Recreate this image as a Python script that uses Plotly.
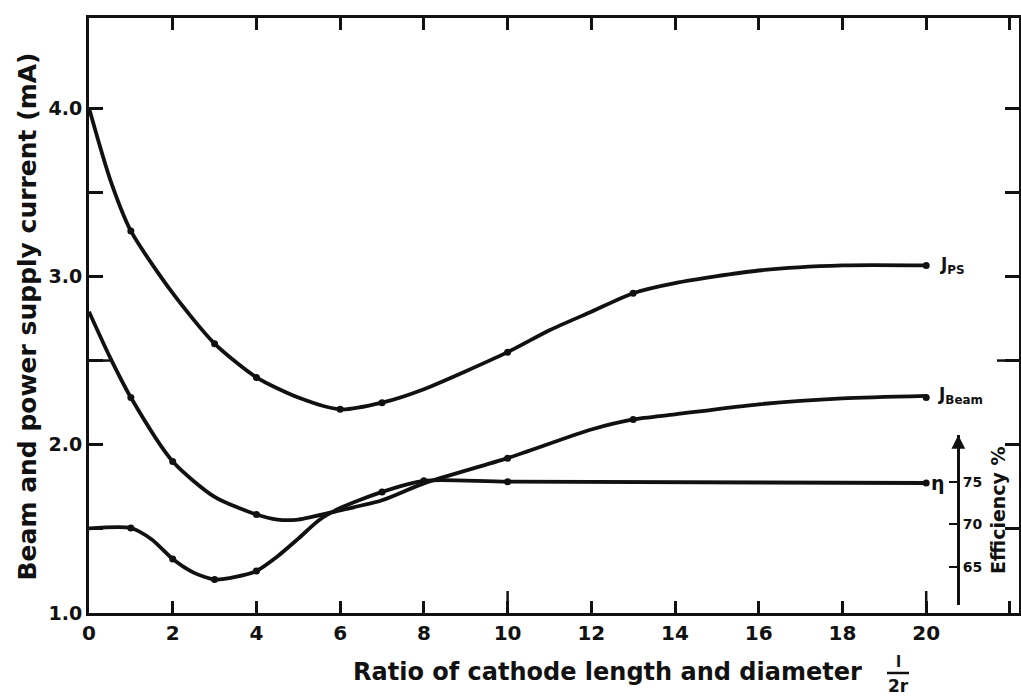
import plotly.graph_objects as go

# ---------------- data ----------------
# Power-supply current J_PS (mA): smooth curve and measured dots
ps_curve_x = [0, 0.5, 1, 2, 3, 4, 5, 6, 7, 8, 10, 11, 12, 13, 14, 16, 18, 20]
ps_curve_y = [4.0, 3.58, 3.27, 2.90, 2.60, 2.40, 2.28, 2.21, 2.25, 2.33, 2.55, 2.68, 2.79, 2.90, 2.96, 3.035, 3.065, 3.065]
ps_pts_x = [1, 3, 4, 6, 7, 10, 13, 20]
ps_pts_y = [3.27, 2.60, 2.40, 2.21, 2.25, 2.55, 2.90, 3.065]

# Beam current J_Beam (mA)
beam_curve_x = [0, 0.5, 1, 2, 3, 4, 4.5, 5, 6, 7, 8, 10, 12, 13, 14, 16, 18, 20]
beam_curve_y = [2.79, 2.52, 2.28, 1.90, 1.69, 1.585, 1.555, 1.555, 1.61, 1.67, 1.77, 1.92, 2.09, 2.15, 2.18, 2.24, 2.275, 2.29]
beam_pts_x = [1, 2, 4, 10, 13, 20]
beam_pts_y = [2.28, 1.90, 1.585, 1.92, 2.15, 2.28]

# Efficiency eta (%)
eta_curve_x = [0, 1, 1.5, 2, 2.5, 3, 3.5, 4, 4.5, 5, 5.5, 6, 7, 8, 10, 20]
eta_curve_y = [69.5, 69.55, 68.2, 65.9, 64.3, 63.5, 63.8, 64.5, 66.2, 68.3, 70.5, 71.9, 73.8, 75.1, 75.0, 74.85]
eta_pts_x = [1, 2, 3, 4, 7, 8, 10, 20]
eta_pts_y = [69.55, 65.9, 63.5, 64.5, 73.8, 75.1, 75.0, 74.85]

x_ticks = [0, 2, 4, 6, 8, 10, 12, 14, 16, 18, 20, 22]
x_ticklabels = ["0", "2", "4", "6", "8", "10", "12", "14", "16", "18", "20", ""]
y_ticks = [1.0, 1.5, 2.0, 2.5, 3.0, 3.5, 4.0]
y_ticklabels = ["1.0", "", "2.0", "", "3.0", "", "4.0"]
eff_ticks = [65, 70, 75]
eff_ticklabels = ["65", "70", "75"]

# ---------------- figure ----------------
INK = "#111111"
FONT = "DejaVu Sans"
L, R, T, B = 89, 2, 18, 84
W, H = 1021, 697
PW, PH = W - L - R, H - T - B

fig = go.Figure()

def add_series(cx, cy, px, py, yaxis="y"):
    fig.add_trace(go.Scatter(x=cx, y=cy, mode="lines", yaxis=yaxis,
                             line=dict(color=INK, width=3.8, shape="spline", smoothing=0.7),
                             hoverinfo="skip", showlegend=False))
    fig.add_trace(go.Scatter(x=px, y=py, mode="markers", yaxis=yaxis,
                             marker=dict(color=INK, size=7),
                             showlegend=False))

add_series(ps_curve_x, ps_curve_y, ps_pts_x, ps_pts_y)
add_series(beam_curve_x, beam_curve_y, beam_pts_x, beam_pts_y)
add_series(eta_curve_x, eta_curve_y, eta_pts_x, eta_pts_y, yaxis="y2")

tickfont = dict(family=FONT, size=20, color=INK, weight="bold")

eff_pos = (958.3 - L) / PW
eff_dom = [(613 - 605) / PH, (613 - 435) / PH]

fig.update_layout(
    width=W, height=H,
    margin=dict(l=L, r=R, t=T, b=B, pad=0, autoexpand=False),
    paper_bgcolor="white", plot_bgcolor="rgba(0,0,0,0)",
    showlegend=False,
    xaxis=dict(range=[0, 930 / 41.86], showgrid=False, zeroline=False, automargin=False,
               showline=True, linewidth=3, linecolor=INK, mirror="ticks",
               ticks="inside", ticklen=12, tickwidth=2.5, tickcolor=INK,
               tickvals=x_ticks, ticktext=x_ticklabels, tickfont=tickfont),
    yaxis=dict(range=[1.0, 1.0 + (613 - T) / 168.3], showgrid=False, zeroline=False,
               automargin=False,
               showline=True, linewidth=3, linecolor=INK, mirror="ticks",
               ticks="inside", ticklen=14, tickwidth=2.5, tickcolor=INK,
               tickvals=y_ticks, ticktext=y_ticklabels,
               tickfont=dict(family=FONT, size=19, color=INK, weight="bold")),
    yaxis2=dict(domain=eff_dom, range=[75 - (605 - 481.7) / 8.5, 75 + (481.7 - 435) / 8.5],
                anchor="free", position=eff_pos, side="right", automargin=False,
                showgrid=False, zeroline=False,
                showline=True, linewidth=2.5, linecolor=INK,
                ticks="inside", ticklen=9, tickwidth=2, tickcolor=INK,
                tickvals=eff_ticks, ticktext=eff_ticklabels,
                tickfont=dict(family=FONT, size=14, color=INK, weight="bold")),
)

# longer tick marks
shapes = [
    dict(type="line", xref="paper", yref="y", x0=0, x1=21 / PW, y0=2.5, y1=2.5,
         line=dict(color=INK, width=2.5)),
    dict(type="line", xref="paper", yref="y", x0=1 - 22 / PW, x1=1, y0=2.5, y1=2.5,
         line=dict(color=INK, width=2.5)),
    dict(type="line", xref="x", yref="paper", x0=10, x1=10, y0=0, y1=22 / PH,
         line=dict(color=INK, width=2.5)),
    dict(type="line", xref="x", yref="paper", x0=20, x1=20, y0=0, y1=22 / PH,
         line=dict(color=INK, width=2.5)),
    # fraction bar of l/2r
    dict(type="line", xref="paper", yref="paper",
         x0=(887 - L) / PW, x1=(909 - L) / PW, y0=(613 - 673) / PH, y1=(613 - 673) / PH,
         line=dict(color=INK, width=2.5)),
]
fig.update_layout(shapes=shapes)

lab = dict(family=FONT, size=17, color=INK, weight="bold")

def ann(x, y, text, size, angle=0, **kw):
    d = dict(x=(x - L) / PW, y=(613 - y) / PH, xref="paper", yref="paper",
             text=text, textangle=angle, showarrow=False,
             xanchor="center", yanchor="middle",
             font=dict(family=FONT, size=size, color=INK, weight="bold"))
    d.update(kw)
    return d

annotations = [
    dict(x=20, y=ps_curve_y[-1], xref="x", yref="y", text="J<sub>PS</sub>",
         showarrow=False, xanchor="left", yanchor="middle", xshift=12, font=lab),
    dict(x=20, y=beam_curve_y[-1], xref="x", yref="y", text="J<sub>Beam</sub>",
         showarrow=False, xanchor="left", yanchor="middle", xshift=10, font=lab),
    dict(x=20, y=eta_curve_y[-1], xref="x", yref="y2", text="η",
         showarrow=False, xanchor="left", yanchor="middle", xshift=3,
         font=dict(family=FONT, size=19, color=INK, weight="bold")),
    # arrow on top of the efficiency axis
    dict(x=eff_pos, y=1, xref="paper", yref="y2 domain", text="", showarrow=True,
         ax=0, ay=26, arrowhead=2, arrowsize=1.1, arrowwidth=2.5, arrowcolor=INK),
    ann(998, 510, "Efficiency %", 19, angle=-90),
    # axis titles
    ann(27, 316.5, "Beam and power supply current (mA)", 25, angle=-90),
    ann(607, 672, "Ratio of cathode length and diameter", 24),
    ann(898, 662, "l", 15),
    ann(898, 686, "2r", 17),
]
fig.update_layout(annotations=annotations)

fig.write_html("out.html", config={"displayModeBar": False},
               post_script="document.body.style.margin='0';document.body.style.padding='0';")
